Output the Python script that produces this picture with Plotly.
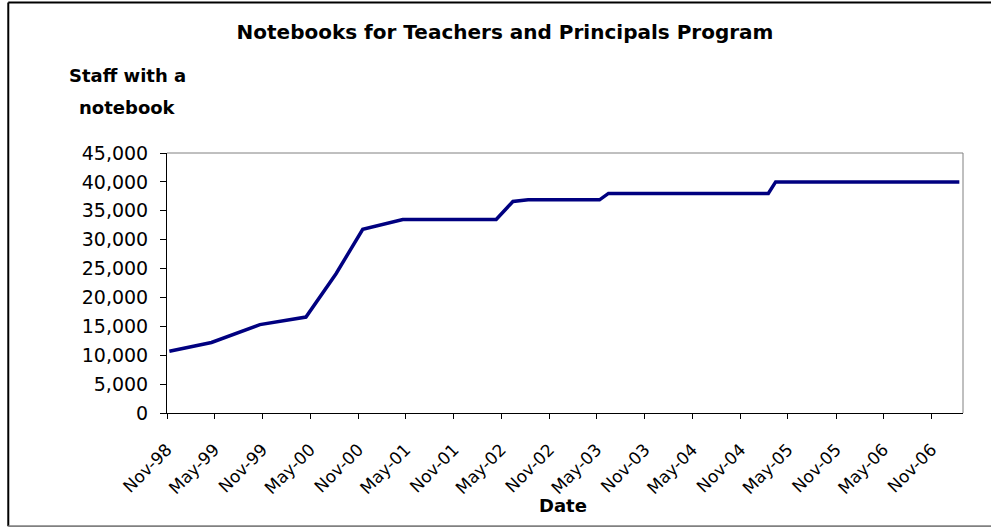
import plotly.graph_objects as go

dates = ["1998-11-10", "1999-04-20", "1999-10-22", "2000-04-15", "2000-08-08",
         "2000-11-18", "2001-04-20", "2002-04-12", "2002-06-15", "2002-08-12",
         "2003-05-12", "2003-06-15", "2005-02-15", "2005-03-15", "2006-05-01",
         "2007-02-15"]
staff = [10700, 12200, 15300, 16600, 24100,
         31800, 33500, 33500, 36600, 36900,
         36900, 38000, 38000, 40000, 40000,
         40000]

title_text = "Notebooks for Teachers and Principals Program"
y_title_lines = ["Staff with a", "notebook"]
x_title = "Date"

FONT = "DejaVu Sans, Verdana, sans-serif"

fig = go.Figure()
fig.add_trace(go.Scatter(x=dates, y=staff, mode="lines",
                         line=dict(color="#000080", width=3.5),
                         showlegend=False, hoverinfo="x+y"))

fig.update_layout(
    width=991, height=527,
    margin=dict(l=167, r=28, t=153, b=114),
    paper_bgcolor="white", plot_bgcolor="white",
    font=dict(family=FONT, color="black", size=16),
    title=dict(text="<b>" + title_text + "</b>", x=(505 / 991), xanchor="center",
               y=1 - 32 / 527, yanchor="middle", font=dict(size=20)),
    showlegend=False,
)

fig.update_xaxes(
    type="date", range=["1998-11-01", "2007-03-01"],
    tick0="1998-11-01", dtick="M6", tickformat="%b-%y",
    tickangle=-45, ticks="outside", ticklen=5, tickcolor="black",
    showline=True, linecolor="black", linewidth=1, showgrid=False,
    zeroline=False, tickfont=dict(size=17), ticklabelstandoff=14,
)
fig.update_yaxes(
    range=[0, 45000], dtick=5000, tickformat=",d",
    ticks="outside", ticklen=6, tickcolor="black",
    showline=True, linecolor="black", linewidth=1, showgrid=False,
    zeroline=False, tickfont=dict(size=19), ticklabelstandoff=8,
)

# plot-area box (top / right in gray)
fig.add_shape(type="line", xref="paper", yref="paper", x0=0, x1=1, y0=1, y1=1,
              line=dict(color="#808080", width=1))
fig.add_shape(type="line", xref="paper", yref="paper", x0=1, x1=1, y0=0, y1=1,
              line=dict(color="#808080", width=1))

# outer chart border
fig.add_shape(type="line", xref="paper", yref="paper", x0=-0.1994, x1=-0.1994,
              y0=-0.4356, y1=1.579, line=dict(color="black", width=2))
fig.add_shape(type="line", xref="paper", yref="paper", x0=-0.1994, x1=1.04,
              y0=1.579, y1=1.579, line=dict(color="black", width=2))
fig.add_shape(type="line", xref="paper", yref="paper", x0=-0.1994, x1=1.04,
              y0=-0.4356, y1=-0.4356, line=dict(color="#808080", width=2))

# y-axis title (two lines)
fig.add_annotation(text="<b>" + y_title_lines[0] + "</b>", xref="paper", yref="paper",
                   x=(127 - 167) / 796, y=(413 - 76) / 260, xanchor="center",
                   yanchor="middle", showarrow=False, font=dict(size=18))
fig.add_annotation(text="<b>" + y_title_lines[1] + "</b>", xref="paper", yref="paper",
                   x=(127 - 167) / 796, y=(413 - 107) / 260, xanchor="center",
                   yanchor="middle", showarrow=False, font=dict(size=18))
# x-axis title
fig.add_annotation(text="<b>" + x_title + "</b>", xref="paper", yref="paper",
                   x=(563 - 167) / 796, y=(413 - 505) / 260, xanchor="center",
                   yanchor="middle", showarrow=False, font=dict(size=18))

fig.write_html("out.html", config={"displayModeBar": False},
               post_script="document.body.style.margin='0px';")
